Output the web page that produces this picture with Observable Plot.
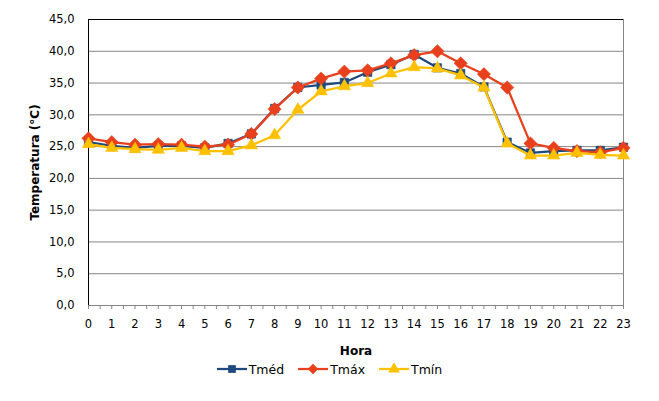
<!DOCTYPE html>
<html>
<head>
<meta charset="utf-8">
<script src="https://cdn.jsdelivr.net/npm/d3@7"></script>
<script src="https://cdn.jsdelivr.net/npm/@observablehq/plot@0.6"></script>
<style>
  body { margin: 0; background: #fff; font-family: "DejaVu Sans", Verdana, sans-serif; }
  #chart { width: 659px; }
  #legend { display: flex; justify-content: center; align-items: center; gap: 14px; font-size: 12.5px; color: #000; height: 18px; margin-top: 0; padding-left: 0; }
  #legend .item { display: flex; align-items: center; gap: 2px; }
</style>
</head>
<body>
<div id="chart"></div>
<script>
const hours = d3.range(0, 24);
const seriesNames = ["Tméd", "Tmáx", "Tmín"];
const seriesColors = ["#1F497D", "#E8401C", "#FFC000"];
const seriesSymbols = ["square", "diamond2", "triangle"];
const tmed = [25.7, 25.1, 24.8, 25.1, 25.1, 24.8, 25.5, 27.0, 31.0, 34.3, 34.7, 35.1, 36.7, 37.9, 39.5, 37.4, 36.5, 34.4, 25.7, 24.0, 24.3, 24.4, 24.4, 24.9];
const tmax = [26.3, 25.7, 25.3, 25.4, 25.3, 25.0, 25.3, 27.0, 30.9, 34.3, 35.7, 36.8, 37.0, 38.1, 39.4, 40.0, 38.1, 36.4, 34.3, 25.5, 24.8, 24.3, 24.1, 24.8];
const tmin = [25.4, 24.8, 24.6, 24.5, 24.8, 24.3, 24.3, 25.2, 26.8, 30.8, 33.7, 34.5, 35.0, 36.5, 37.5, 37.3, 36.2, 34.3, 25.5, 23.6, 23.6, 24.0, 23.7, 23.6];
const yTicks = [0, 5, 10, 15, 20, 25, 30, 35, 40, 45];
const xTickHalf = d3.range(0, 23.01, 0.5);

const seriesValues = [tmed, tmax, tmin];
const data = seriesNames.flatMap((s, i) => hours.map((h, j) => ({series: s, hora: h, temp: seriesValues[i][j]})));

const fmt = d => d.toFixed(1).replace(".", ",");
const font = '"DejaVu Sans", Verdana, sans-serif';
const symR = {square: 4.8, diamond2: 6, triangle: 4.6};

const marks = [
  Plot.ruleY(yTicks.filter(v => v > 0 && v < 45), {stroke: "#868686", strokeWidth: 1}),
  Plot.ruleY([45], {stroke: "#000", strokeWidth: 1}),
  Plot.ruleX([23], {stroke: "#868686", strokeWidth: 1}),
  Plot.axisY({ticks: yTicks, tickFormat: fmt, tickSize: 0, tickPadding: 14, label: null, fontSize: 11.5}),
  Plot.axisX({ticks: hours, tickFormat: d => String(d), tickSize: 0, tickPadding: 14, label: null, fontSize: 11.5}),
  Plot.axisX({ticks: xTickHalf, tickFormat: () => "", tickSize: 4, stroke: "#868686", label: null}),
  Plot.ruleY([0], {stroke: "#868686", strokeWidth: 1}),
  Plot.ruleX([0], {stroke: "#000", strokeWidth: 1}),
  Plot.text(["Temperatura (°C)"], {frameAnchor: "left", textAnchor: "middle", dx: -53, rotate: -90, fontWeight: "bold", fontSize: 12, fill: "#000"}),
  Plot.text(["Hora"], {frameAnchor: "bottom", dy: 49, fontWeight: "bold", fontSize: 12, fill: "#000"})
];
seriesNames.forEach((s, i) => {
  const d = data.filter(r => r.series === s);
  marks.push(Plot.line(d, {x: "hora", y: "temp", stroke: seriesColors[i], strokeWidth: 2.25}));
  marks.push(Plot.dot(d, {x: "hora", y: "temp", fill: seriesColors[i], stroke: seriesColors[i], strokeWidth: 0.5, symbol: () => seriesSymbols[i], r: symR[seriesSymbols[i]]}));
});

const chart = Plot.plot({
  width: 659,
  height: 360,
  marginLeft: 88,
  marginRight: 36,
  marginTop: 19,
  marginBottom: 55,
  style: {fontFamily: font, color: "#000", background: "#fff", overflow: "visible"},
  x: {domain: [0, 23], type: "linear"},
  y: {domain: [0, 45]},
  marks
});
document.getElementById("chart").appendChild(chart);
</script>
<div id="legend"></div>
<script>
const legend = document.getElementById("legend");
seriesNames.forEach((s, i) => {
  const item = document.createElement("div");
  item.className = "item";
  const sym = d3.symbol().type({square: d3.symbolSquare, diamond2: d3.symbolDiamond2, triangle: d3.symbolTriangle}[seriesSymbols[i]]).size(seriesSymbols[i] === "diamond2" ? 70 : 60)();
  item.innerHTML = `<svg width="30" height="12"><line x1="0" x2="30" y1="6" y2="6" stroke="${seriesColors[i]}" stroke-width="2.25"/><path transform="translate(15,6)" d="${sym}" fill="${seriesColors[i]}"/></svg><span>${s}</span>`;
  legend.appendChild(item);
});
</script>
</body>
</html>
